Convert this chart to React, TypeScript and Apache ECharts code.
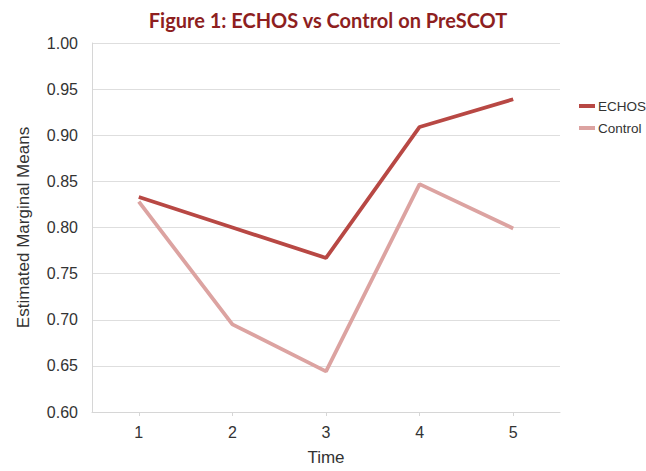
import React, { useEffect, useRef } from "react";
import * as echarts from "echarts";

const categories = ["1", "2", "3", "4", "5"];
const echosValues = [0.833, 0.8, 0.767, 0.909, 0.939];
const controlValues = [0.828, 0.695, 0.644, 0.847, 0.799];
const seriesNames = ["ECHOS", "Control"];
const titleText = "Figure 1: ECHOS vs Control on PreSCOT";
const yAxisName = "Estimated Marginal Means";
const xAxisName = "Time";

export default function App() {
  const ref = useRef<HTMLDivElement>(null);
  useEffect(() => {
    if (!ref.current) return;
    const chart = echarts.init(ref.current, undefined, { renderer: "svg" });
    chart.setOption({
      animation: false,
      backgroundColor: "#ffffff",
      title: {
        text: titleText,
        left: 323,
        textAlign: "center",
        top: 5,
        textStyle: {
          fontFamily: "Lato",
          fontWeight: "bold",
          fontSize: 20,
          color: "#8e1f1f",
        },
      },
      legend: {
        left: 574,
        top: 94,
        orient: "vertical",
        itemWidth: 16,
        itemHeight: 4,
        itemGap: 8,
        icon: "rect",
        data: seriesNames,
        textStyle: { fontFamily: "Liberation Sans", fontSize: 13.5, color: "#333", padding: [0, 0, 0, -2] },
      },
      grid: { left: 92, right: 86, top: 43, bottom: 53, containLabel: false },
      xAxis: {
        type: "category",
        data: categories,
        boundaryGap: true,
        name: xAxisName,
        nameLocation: "middle",
        nameGap: 37,
        nameTextStyle: { fontFamily: "Liberation Sans", fontSize: 17, color: "#333" },
        axisLine: { lineStyle: { color: "#d6d6d6", width: 1 } },
        axisTick: { show: true, alignWithLabel: true, length: 4, lineStyle: { color: "#d6d6d6" } },
        axisLabel: { fontFamily: "Liberation Sans", fontSize: 16, color: "#333", margin: 12 },
        splitLine: { show: false },
      },
      yAxis: {
        type: "value",
        min: 0.6,
        max: 1.0,
        interval: 0.05,
        name: yAxisName,
        nameLocation: "middle",
        nameGap: 60,
        nameTextStyle: { fontFamily: "Liberation Sans", fontSize: 17, color: "#333" },
        axisLine: { show: true, lineStyle: { color: "#d6d6d6", width: 1 } },
        axisTick: { show: false },
        axisLabel: {
          fontFamily: "Liberation Sans",
          fontSize: 16,
          color: "#333",
          margin: 14,
          formatter: (v: number) => v.toFixed(2),
        },
        splitLine: { lineStyle: { color: "#dedede", width: 1.2 } },
      },
      series: [
        {
          name: seriesNames[0],
          type: "line",
          data: echosValues,
          symbol: "none",
          color: "#b84844",
          lineStyle: { width: 3.8, color: "#b84844" },
        },
        {
          name: seriesNames[1],
          type: "line",
          data: controlValues,
          symbol: "none",
          color: "#dca3a1",
          lineStyle: { width: 3.8, color: "#dca3a1" },
        },
      ],
    });
    return () => chart.dispose();
  }, []);
  return <div ref={ref} style={{ width: 646, height: 471, position: "absolute", left: 0, top: 0 }} />;
}
